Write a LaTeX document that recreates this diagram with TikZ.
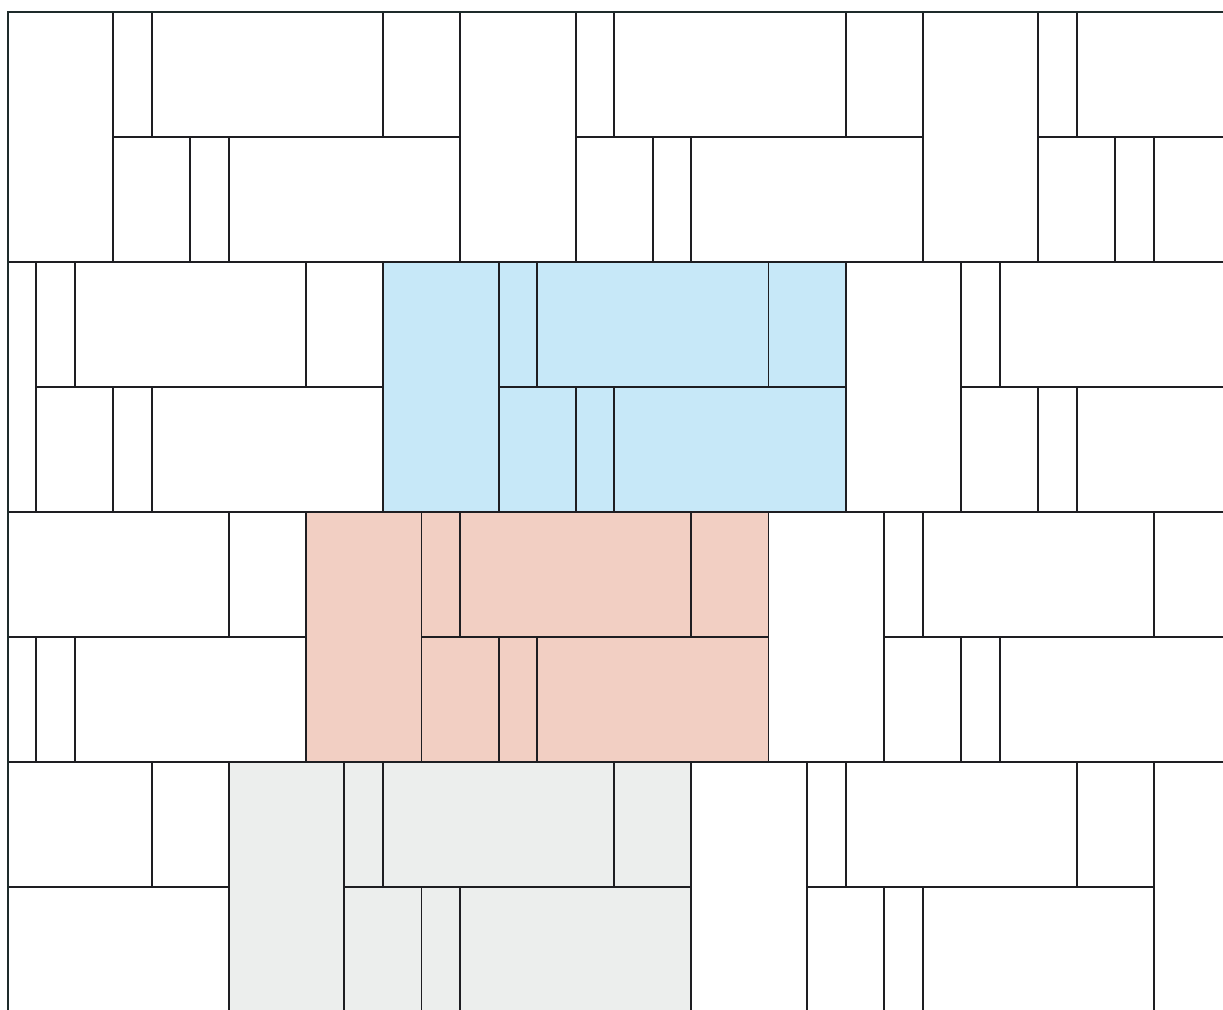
\documentclass[tikz,border=0pt]{standalone}
\definecolor{tileblue}{HTML}{C7E8F8}
\definecolor{tilepink}{HTML}{F2CFC3}
\definecolor{tilegray}{HTML}{ECEEED}
\definecolor{edgecol}{HTML}{1E1E22}
\definecolor{framecol}{HTML}{1E2B2B}
\tikzset{
  tileline/.style={draw=edgecol, line width=0.95pt},
  frameline/.style={draw=framecol, line width=1.4pt, line cap=rect},
}
\begin{document}
\begin{tikzpicture}[x=0.5pt,y=-0.5pt]
\useasboundingbox (0,0) rectangle (1223,1010);
\fill[white] (0,0) rectangle (1223,1010);
\def\uu{38.55}
\def\xo{-2.55}
\begin{scope}
\clip (8,12) rectangle (1223,1010);
% coloured tiles
\fill[tileblue] ({\xo+10*\uu},262) rectangle ({\xo+22*\uu},512);
\fill[tilepink] ({\xo+8*\uu},512) rectangle ({\xo+20*\uu},762);
\fill[tilegray] ({\xo+6*\uu},762) rectangle ({\xo+18*\uu},1012);
% tile pattern
\foreach \b in {0,...,3}{
  \foreach \k in {0,...,3}{
    \pgfmathsetmacro\X{\xo+\uu*(12*\k-2*\b)}
    \pgfmathsetmacro\Y{12+250*\b}
    \pgfmathsetmacro\M{\Y+125}
    \pgfmathsetmacro\B{\Y+250}
    \draw[tileline] (\X,\Y) rectangle ({\X+12*\uu},\B);
    \draw[tileline] ({\X+3*\uu},\Y) -- ({\X+3*\uu},\B);
    \draw[tileline] ({\X+3*\uu},\M) -- ({\X+12*\uu},\M);
    \draw[tileline] ({\X+4*\uu},\Y) -- ({\X+4*\uu},\M);
    \draw[tileline] ({\X+10*\uu},\Y) -- ({\X+10*\uu},\M);
    \draw[tileline] ({\X+5*\uu},\M) -- ({\X+5*\uu},\B);
    \draw[tileline] ({\X+6*\uu},\M) -- ({\X+6*\uu},\B);
  }
}
\end{scope}
% frame on top and left
\draw[frameline] (8,1010) -- (8,12) -- (1223,12);
\end{tikzpicture}
\end{document}
